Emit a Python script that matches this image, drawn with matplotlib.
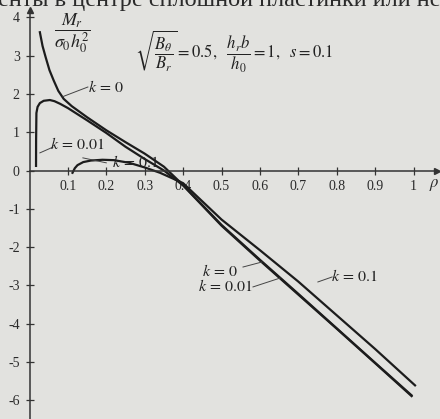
import matplotlib.pyplot as plt

plt.rcParams['font.family'] = ['Liberation Serif', 'DejaVu Serif']
plt.rcParams['mathtext.fontset'] = 'stix'

# curve data (rho, M_r / sigma0 h0^2)
k0_x = [0.027, 0.034, 0.042, 0.052, 0.063, 0.075, 0.089, 0.11, 0.15, 0.2, 0.25, 0.3, 0.35,
        0.4, 0.5, 0.6, 0.7, 0.8, 0.9, 0.995]
k0_y = [3.61, 3.25, 2.96, 2.62, 2.35, 2.08, 1.87, 1.68, 1.39, 1.05, 0.74, 0.44, 0.1,
        -0.38, -1.42, -2.33, -3.22, -4.12, -5.02, -5.87]

k001_x = [0.017, 0.0172, 0.018, 0.021, 0.027, 0.037, 0.053, 0.065, 0.08, 0.1, 0.15, 0.2, 0.25,
          0.3, 0.35, 0.4, 0.5, 0.6, 0.7, 0.8, 0.9, 0.995]
k001_y = [0.12, 0.8, 1.5, 1.66, 1.76, 1.82, 1.84, 1.81, 1.74, 1.63, 1.31, 0.98, 0.62,
          0.3, 0.0, -0.39, -1.44, -2.35, -3.24, -4.13, -5.03, -5.89]

k01_x = [0.112, 0.118, 0.125, 0.14, 0.16, 0.19, 0.22, 0.26, 0.3, 0.34, 0.4, 0.5, 0.6, 0.7,
         0.8, 0.9, 1.004]
k01_y = [-0.06, 0.06, 0.14, 0.22, 0.26, 0.28, 0.27, 0.2, 0.08, -0.06, -0.33, -1.28, -2.08, -2.9,
         -3.78, -4.66, -5.61]

x_ticks = [0.1, 0.2, 0.3, 0.4, 0.5, 0.6, 0.7, 0.8, 0.9, 1.0]
x_labels = ['0.1', '0.2', '0.3', '0.4', '0.5', '0.6', '0.7', '0.8', '0.9', '1']
y_ticks = [4, 3, 2, 1, 0, -1, -2, -3, -4, -5, -6]

bg = '#e2e2df'
ink = '#1c1c1c'

fig = plt.figure(figsize=(4.4, 4.19), dpi=100, facecolor=bg)
ax = fig.add_axes([0, 0, 1, 1], facecolor=bg)
ax.set_xlim(-29.5 / 384, (440 - 29.5) / 384)
ax.set_ylim(-(419 - 170.5) / 38.3, 170.5 / 38.3)

ax.plot(k0_x, k0_y, color=ink, lw=1.6)
ax.plot(k001_x, k001_y, color=ink, lw=1.6)
ax.plot(k01_x, k01_y, color=ink, lw=1.6)

# axes through the origin
for s in ['top', 'right']:
    ax.spines[s].set_visible(False)
ax.spines['left'].set_position(('data', 0))
ax.spines['bottom'].set_position(('data', 0))
ax.spines['left'].set_bounds(-6.5, 4.2)
ax.spines['bottom'].set_bounds(0, 1.06)
for s in ['left', 'bottom']:
    ax.spines[s].set_color('#333333')
    ax.spines[s].set_linewidth(1.1)
ax.plot(0, 4.2, marker='^', ms=5, color='#333333', clip_on=False)
ax.plot(1.06, 0, marker='>', ms=5, color='#333333', clip_on=False)

ax.set_xticks(x_ticks)
ax.set_xticklabels(x_labels)
ax.set_yticks(y_ticks)
ax.set_yticklabels([str(v) for v in y_ticks])
ax.tick_params(direction='inout', length=6, width=0.9, colors='#333333',
               labelsize=10, labelcolor='#2a2a2a')
ax.tick_params(axis='y', pad=4)
ax.tick_params(axis='x', pad=4)
ax.text(1.068, -0.38, r'$\rho$', fontsize=12, color='#2a2a2a', ha='right', va='center')

# header of the scanned page (half cut off)
ax.text(-0.083, 4.3, 'енты в центре сплошной пластинки или не', fontsize=17.5,
        color='#2a2a2a', ha='left', va='baseline', clip_on=False)

# formula labels
ax.text(0.111, 3.58, r'$\dfrac{M_r}{\sigma_0 h_0^2}$', fontsize=13, color='#222222',
        ha='center', va='center')
ax.text(0.275, 3.12, r'$\sqrt{\dfrac{B_\theta}{B_r}} = 0.5,\ \ \dfrac{h_r b}{h_0} = 1,\ \ s = 0.1$',
        fontsize=12, color='#222222', ha='left', va='center')

# curve labels with leaders
lab = dict(fontsize=11.5, color='#222222', va='center')
ax.text(0.199, 2.15, r'$k\,=\,0$', ha='center', **lab)
ax.plot([0.087, 0.152], [1.93, 2.18], color='#444444', lw=0.7)
ax.text(0.126, 0.67, r'$k\,=\,0.01$', ha='center', **lab)
ax.plot([0.027, 0.061], [0.46, 0.61], color='#444444', lw=0.7)
ax.text(0.275, 0.2, r'$k\,=\,0.1$', ha='center', **lab)
ax.plot([0.139, 0.2], [0.33, 0.2], color='#444444', lw=0.7)

ax.text(0.496, -2.65, r'$k\,=\,0$', ha='center', **lab)
ax.plot([0.556, 0.605], [-2.52, -2.39], color='#444444', lw=0.7)
ax.text(0.509, -3.04, r'$k\,=\,0.01$', ha='center', **lab)
ax.plot([0.582, 0.652], [-3.04, -2.81], color='#444444', lw=0.7)
ax.text(0.845, -2.78, r'$k\,=\,0.1$', ha='center', **lab)
ax.plot([0.751, 0.788], [-2.91, -2.78], color='#444444', lw=0.7)

fig.savefig('out.png', dpi=100, facecolor=bg)
